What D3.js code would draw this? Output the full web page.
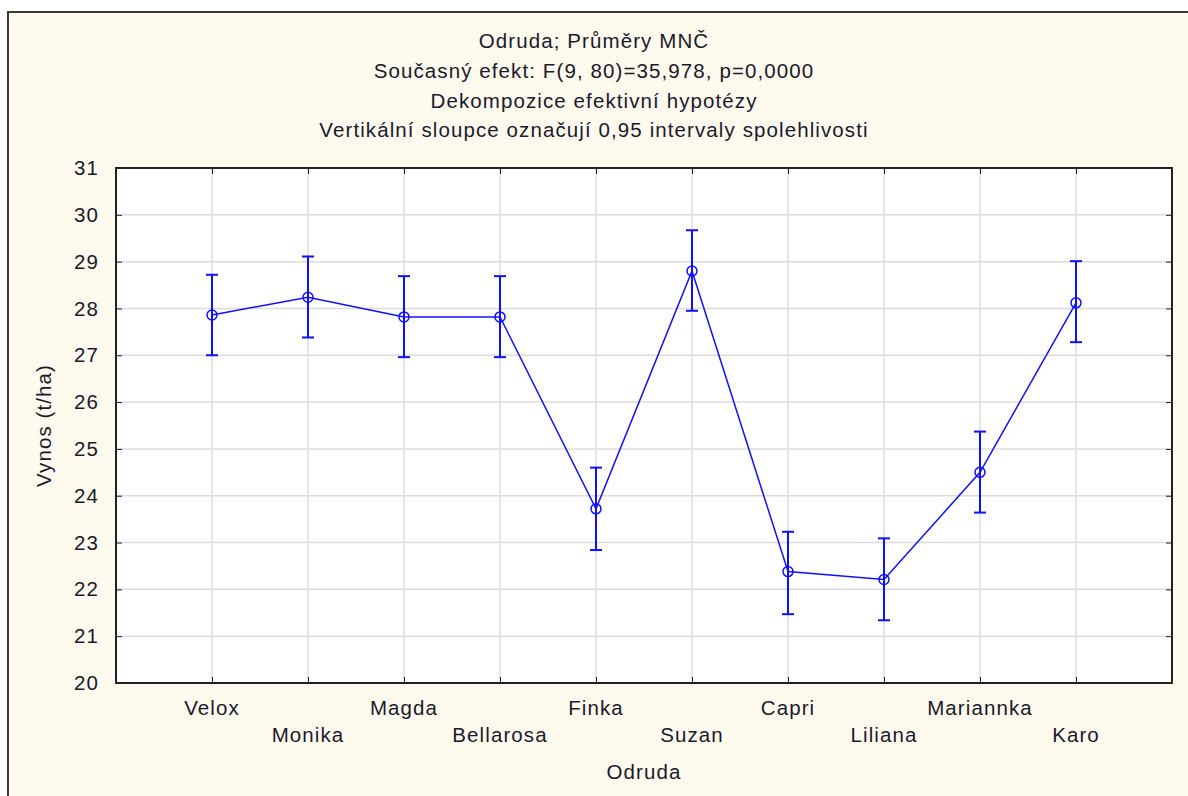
<!DOCTYPE html>
<html>
<head>
<meta charset="utf-8">
<script src="https://cdn.jsdelivr.net/npm/d3@7"></script>
<style>
  body { margin: 0; background: #ffffff; }
  text { font-family: "Liberation Sans", Arial, sans-serif; fill: #1a1a2a; letter-spacing: 1.1px; }
</style>
</head>
<body>
<div id="chart"></div>
<script>
// Data
const categories = ["Velox", "Monika", "Magda", "Bellarosa", "Finka", "Suzan", "Capri", "Liliana", "Mariannka", "Karo"];
const means = [27.86, 28.24, 27.82, 27.82, 23.72, 28.80, 22.38, 22.21, 24.50, 28.12];
const lower = [27.00, 27.38, 26.96, 26.96, 22.84, 27.95, 21.47, 21.34, 23.64, 27.28];
const upper = [28.72, 29.11, 28.69, 28.69, 24.60, 29.67, 23.23, 23.09, 25.37, 29.01];
const yTicks = [20, 21, 22, 23, 24, 25, 26, 27, 28, 29, 30, 31];
const titleLines = [
    "Odruda; Průměry MNČ",
    "Současný efekt: F(9, 80)=35,978, p=0,0000",
    "Dekompozice efektivní hypotézy",
    "Vertikální sloupce označují 0,95 intervaly spolehlivosti"
];

const width = 1188, height = 796;
const margin = {top: 168, right: 16, bottom: 113, left: 116};
const plotW = width - margin.left - margin.right;
const plotH = height - margin.top - margin.bottom;
const fs = 20.5;

let svg = d3.select("#chart").append("svg")
    .attr("width", width)
    .attr("height", height);

// Outer panel
svg.append("rect")
    .attr("x", 8).attr("y", 12)
    .attr("width", width).attr("height", height)
    .attr("fill", "#fff9ee")
    .attr("stroke", "#3a3a3a")
    .attr("stroke-width", 2);

// Title
svg.append("g").selectAll("text")
    .data(titleLines)
    .enter().append("text")
    .attr("x", 594)
    .attr("y", (d, i) => 48 + i * 29.8)
    .attr("text-anchor", "middle")
    .attr("font-size", fs)
    .text(d => d);

let g = svg.append("g").attr("transform", "translate(" + margin.left + "," + margin.top + ")");

//Scales
let xScale = d3.scalePoint()
    .domain(categories)
    .range([0, plotW])
    .padding(1);
let yScale = d3.scaleLinear()
    .domain([20, 31])
    .range([plotH, 0]);

// Plot background
g.append("rect")
    .attr("width", plotW).attr("height", plotH)
    .attr("fill", "#ffffff");

// Grid
g.append("g").selectAll("line.h")
    .data(yTicks.slice(1, -1))
    .enter().append("line")
    .attr("x1", 0).attr("x2", plotW)
    .attr("y1", d => yScale(d)).attr("y2", d => yScale(d))
    .attr("stroke", "#dcdcdc").attr("stroke-width", 1.5);
g.append("g").selectAll("line.v")
    .data(categories)
    .enter().append("line")
    .attr("x1", d => xScale(d)).attr("x2", d => xScale(d))
    .attr("y1", 0).attr("y2", plotH)
    .attr("stroke", "#dcdcdc").attr("stroke-width", 1.5);

// Axes (inward ticks)
let yAxisL = d3.axisLeft(yScale).tickValues(yTicks).tickSize(-6).tickPadding(17);
let gy = g.append("g").call(yAxisL);
gy.selectAll("text").attr("font-size", fs).attr("fill", "#1a1a2a").attr("font-family", null);
gy.select(".domain").remove();
gy.selectAll("line").attr("stroke", "#222");

let yAxisR = d3.axisRight(yScale).tickValues(yTicks).tickSize(-6).tickFormat("");
let gyr = g.append("g").attr("transform", "translate(" + plotW + ",0)").call(yAxisR);
gyr.select(".domain").remove();
gyr.selectAll("line").attr("stroke", "#222");

let xAxisB = d3.axisBottom(xScale).tickSize(-6).tickFormat("");
let gxb = g.append("g").attr("transform", "translate(0," + plotH + ")").call(xAxisB);
gxb.select(".domain").remove();
gxb.selectAll("line").attr("stroke", "#222");

let xAxisT = d3.axisTop(xScale).tickSize(-6).tickFormat("");
let gxt = g.append("g").call(xAxisT);
gxt.select(".domain").remove();
gxt.selectAll("line").attr("stroke", "#222");

// Staggered category labels
g.append("g").selectAll("text")
    .data(categories)
    .enter().append("text")
    .attr("x", d => xScale(d))
    .attr("y", (d, i) => plotH + (i % 2 === 0 ? 32 : 59))
    .attr("text-anchor", "middle")
    .attr("font-size", fs)
    .text(d => d);

// Frame
g.append("rect")
    .attr("width", plotW).attr("height", plotH)
    .attr("fill", "none")
    .attr("stroke", "#222").attr("stroke-width", 2);

// Axis titles
svg.append("text")
    .attr("x", margin.left + plotW / 2)
    .attr("y", 779)
    .attr("text-anchor", "middle")
    .attr("font-size", fs)
    .text("Odruda");
svg.append("text")
    .attr("transform", "translate(51," + (margin.top + plotH / 2) + ") rotate(-90)")
    .attr("text-anchor", "middle")
    .attr("font-size", fs)
    .text("Vynos (t/ha)");

// Series
let blue = "#1010ff";
let pts = categories.map((c, i) => ({c: c, m: means[i], lo: lower[i], hi: upper[i]}));

g.append("path")
    .datum(pts)
    .attr("fill", "none")
    .attr("stroke", blue)
    .attr("stroke-width", 1.5)
    .attr("d", d3.line().x(d => xScale(d.c)).y(d => yScale(d.m)));

let eb = g.append("g").selectAll("g")
    .data(pts)
    .enter().append("g")
    .attr("stroke", blue)
    .attr("stroke-width", 2);
eb.append("line")
    .attr("x1", d => xScale(d.c)).attr("x2", d => xScale(d.c))
    .attr("y1", d => yScale(d.lo)).attr("y2", d => yScale(d.hi));
eb.append("line")
    .attr("x1", d => xScale(d.c) - 6).attr("x2", d => xScale(d.c) + 6)
    .attr("y1", d => yScale(d.lo)).attr("y2", d => yScale(d.lo));
eb.append("line")
    .attr("x1", d => xScale(d.c) - 6).attr("x2", d => xScale(d.c) + 6)
    .attr("y1", d => yScale(d.hi)).attr("y2", d => yScale(d.hi));

g.append("g").selectAll("circle")
    .data(pts)
    .enter().append("circle")
    .attr("cx", d => xScale(d.c))
    .attr("cy", d => yScale(d.m))
    .attr("r", 5)
    .attr("fill", "none")
    .attr("stroke", blue)
    .attr("stroke-width", 1.5);
</script>
</body>
</html>
